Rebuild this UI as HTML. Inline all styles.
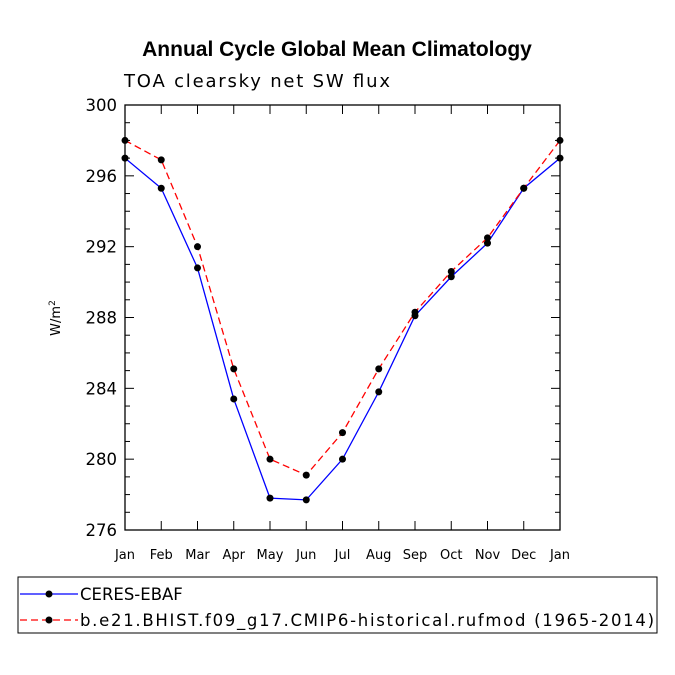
<!DOCTYPE html>
<html><head><meta charset="utf-8"><style>
body{margin:0;background:#fff}
svg{display:block;font-family:"DejaVu Sans","Liberation Sans",sans-serif}
</style></head><body>
<svg id="chart" width="675" height="675">
<text x="337" y="56" text-anchor="middle" font-size="21" font-weight="bold" font-family="Liberation Sans, sans-serif">Annual Cycle Global Mean Climatology</text>
<text x="124" y="87" font-size="18" textLength="266" lengthAdjust="spacing">TOA clearsky net SW flux</text>
<text transform="translate(60,318) rotate(-90)" text-anchor="middle" font-size="13">W/m<tspan dy="-5" font-size="9">2</tspan></text>
<g id="axes"></g>
<g id="series"></g>
<g>
<rect x="18" y="577" width="639" height="56" fill="none" stroke="#000" stroke-width="1"/>
<line x1="20" y1="594" x2="78" y2="594" stroke="#00f" stroke-width="1.3"/>
<circle cx="49" cy="594" r="3.5" fill="#000"/>
<text x="80" y="600" font-size="16.5">CERES-EBAF</text>
<line x1="20" y1="620" x2="78" y2="620" stroke="#f00" stroke-width="1.3" stroke-dasharray="7,4"/>
<circle cx="49" cy="620" r="3.5" fill="#000"/>
<text x="80" y="626" font-size="16.5" textLength="574" lengthAdjust="spacing">b.e21.BHIST.f09_g17.CMIP6-historical.rufmod (1965-2014)</text>
</g>
</svg>
<script>
const months=["Jan","Feb","Mar","Apr","May","Jun","Jul","Aug","Sep","Oct","Nov","Dec","Jan"];
const ceres=[297.0,295.3,290.8,283.4,277.8,277.7,280.0,283.8,288.1,290.3,292.2,295.3,297.0];
const model=[298.0,296.9,292.0,285.1,280.0,279.1,281.5,285.1,288.3,290.6,292.5,295.3,298.0];
const yTicks=[276,280,284,288,292,296,300];
const L=125,R=560,T=105,B=530,ymin=276,ymax=300;
const xs=i=>L+i*(R-L)/12;
const ys=v=>B-(v-ymin)/(ymax-ymin)*(B-T);
const NS="http://www.w3.org/2000/svg";
function mk(tag,attrs,parent){const e=document.createElementNS(NS,tag);for(const k in attrs)e.setAttribute(k,attrs[k]);parent.appendChild(e);return e;}
const ax=document.getElementById('axes');
const frame=mk('rect',{x:L,y:T,width:R-L,height:B-T,fill:'none',stroke:'#000','stroke-width':1.3},ax);


for(let v=ymin;v<=ymax;v++){
  const len=(v%4===0)?9:5;
  mk('line',{x1:L,y1:ys(v),x2:L+len,y2:ys(v),stroke:'#000'},ax);
  mk('line',{x1:R,y1:ys(v),x2:R-len,y2:ys(v),stroke:'#000'},ax);
}
yTicks.forEach(v=>{
  const t=mk('text',{x:L-8,y:ys(v)+6,'text-anchor':'end','font-size':16.5},ax);
  t.textContent=v;
  
  
});
months.forEach((m,i)=>{
  mk('line',{x1:xs(i),y1:B,x2:xs(i),y2:B-9,stroke:'#000'},ax);
  mk('line',{x1:xs(i),y1:T,x2:xs(i),y2:T+9,stroke:'#000'},ax);
  const t=mk('text',{x:xs(i),y:B+29,'text-anchor':'middle','font-size':13},ax);
  t.textContent=m;
  
  
});
const sg=document.getElementById('series');
function draw(vals,color,dash,name){
  const pts=vals.map((v,i)=>xs(i)+','+ys(v)).join(' ');
  const p=mk('polyline',{points:pts,fill:'none',stroke:color,'stroke-width':1.3,'stroke-dasharray':dash},sg);
  
  
  vals.forEach((v,i)=>{
    const c=mk('circle',{cx:xs(i),cy:ys(v),r:3.5,fill:'#000'},sg);
    
    
  });
}
draw(ceres,'#00f','none','ceres');
draw(model,'#f00','7,4','model');
</script>
</body></html>
